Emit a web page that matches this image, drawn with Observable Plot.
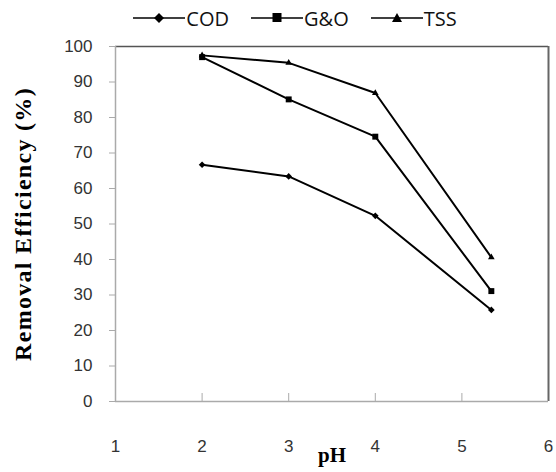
<!DOCTYPE html>
<html><head><meta charset="utf-8">
<script src="https://cdn.jsdelivr.net/npm/d3@7"></script>
<script src="https://cdn.jsdelivr.net/npm/@observablehq/plot@0.6"></script>
<style>
body{margin:0;background:#fff;}
#wrap{width:556px;height:472px;position:relative;}
#legend{height:36px;display:flex;justify-content:center;align-items:center;gap:22px;font-family:"Open Sans","Noto Sans",sans-serif;font-size:20px;color:#111;padding-left:34px;box-sizing:border-box;}
#legend span{display:flex;align-items:center;gap:1px;}
</style></head>
<body><div id="wrap"><div id="legend"></div><div id="chart"></div></div>
<script>
const series = ["COD", "G&O", "TSS"];
const pH = [2, 3, 4, 5.34];
const cod = [66.7, 63.4, 52.3, 25.8];
const go = [97.0, 85.1, 74.6, 31.1];
const tss = [97.5, 95.4, 86.9, 40.6];
const symbols = {"COD": "diamond2", "G&O": "square", "TSS": "triangle2"};
const sizes = {"COD": 4, "G&O": 5, "TSS": 4.5};
const xTicks = [1, 2, 3, 4, 5, 6];
const yTicks = [0, 10, 20, 30, 40, 50, 60, 70, 80, 90, 100];

const values = {"COD": cod, "G&O": go, "TSS": tss};
const data = series.flatMap(s => pH.map((x, i) => ({series: s, pH: x, value: values[s][i]})));

// legend
const leg = document.getElementById("legend");
const legPaths = {
  "COD": '<path d="M26,-5 L31,0 L26,5 L21,0 Z" fill="#000"/>',
  "G&O": '<rect x="21.5" y="-5" width="9" height="9" fill="#000"/>',
  "TSS": '<path d="M26,-5 L31,4 L21,4 Z" fill="#000"/>'
};
for (const s of series) {
  const el = document.createElement("span");
  el.innerHTML = `<svg width="52" height="14" viewBox="0 -7 52 14"><line x1="0" x2="52" y1="0" y2="0" stroke="#000" stroke-width="1.5"/>${legPaths[s]}</svg>${s.replace("&","&amp;")}`;
  leg.appendChild(el);
}

const shadow = "drop-shadow(2px 2px 1.5px rgba(0,0,0,0.35))";
const plot = Plot.plot({
  width: 556,
  height: 436,
  marginTop: 10,
  marginBottom: 71,
  marginLeft: 115,
  marginRight: 8,
  style: {fontFamily: "Liberation Sans, Arial, sans-serif", fontSize: "17px", color: "#333", background: "#fff", overflow: "visible"},
  x: {domain: [1, 6]},
  y: {domain: [0, 100]},
  marks: [
    Plot.ruleY([100], {stroke: "#555", strokeWidth: 1.5}),
    Plot.ruleX([6], {stroke: "#666", strokeWidth: 2}),
    Plot.ruleY([0], {stroke: "#aaa", strokeWidth: 1.5}),
    Plot.ruleX([1], {stroke: "#aaa", strokeWidth: 1.5}),
    Plot.axisY({ticks: yTicks, tickFormat: d => String(d), fontSize: 17, tickSize: 6, tickPadding: 17, stroke: "#aaa", label: "Removal Efficiency (%)", labelAnchor: "center", labelArrow: "none", labelOffset: 102}),
    Plot.axisX({ticks: xTicks.slice(1, -1), tickSize: -8, tickPadding: 0, text: null, stroke: "#aaa", label: null}),
    Plot.axisX({ticks: xTicks, tickFormat: d => String(d), fontSize: 17, tickSize: 0, tickPadding: 38, stroke: null, label: "pH", labelAnchor: "center", labelArrow: "none", labelOffset: 60}),
    Plot.line(data, {x: "pH", y: "value", z: "series", stroke: "#000", strokeWidth: 2, style: {filter: shadow}}),
    Plot.dot(data, {x: "pH", y: "value", symbol: d => symbols[d.series], r: d => sizes[d.series], fill: "#000", stroke: null, style: {filter: shadow}})
  ]
});
document.getElementById("chart").appendChild(plot);
// tick labels
plot.querySelectorAll("g[aria-label='y-axis tick label'] text, g[aria-label='x-axis tick label'] text").forEach(t => {
  t.style.fontSize = "17px";
  t.style.fill = "#333";
});
// style axis titles (bold serif)
plot.querySelectorAll("g[aria-label='y-axis label'] text").forEach(t => {
  t.style.fontFamily = "Liberation Serif, 'Times New Roman', serif";
  t.style.fontWeight = "bold";
  t.style.fontSize = "24px";
  t.style.letterSpacing = "1.3px";
  t.style.fill = "#000";
});
plot.querySelectorAll("g[aria-label='x-axis label'] text").forEach(t => {
  t.style.fontFamily = "Liberation Serif, 'Times New Roman', serif";
  t.style.fontWeight = "bold";
  t.style.fontSize = "21px";
  t.style.fill = "#000";
});
</script></body></html>
